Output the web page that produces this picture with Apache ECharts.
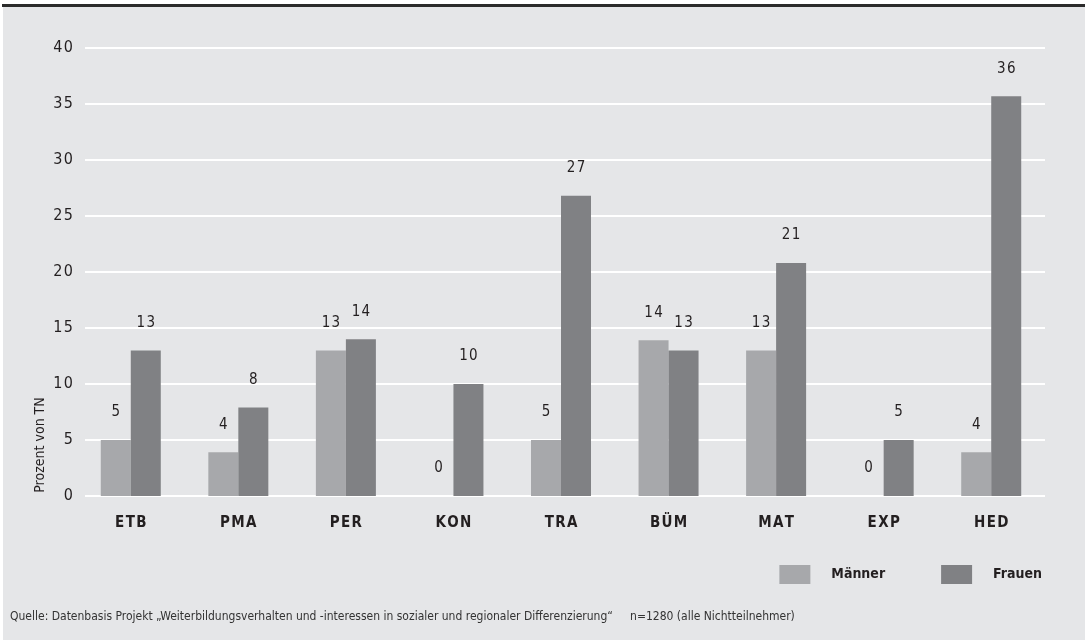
<!DOCTYPE html>
<html>
<head>
<meta charset="utf-8">
<script src="https://cdn.jsdelivr.net/npm/echarts@6/dist/echarts.min.js"></script>
<style>
    html, body {
        margin: 0;
        padding: 0;
        background: #fff;
    }

    #chart {
        width: 1085px;
        height: 640px;
    }
</style>
</head>
<body>
<div id="chart"></div>
<script>
// Kategorien und Werte (Prozent von TN)
const categories = ['ETB', 'PMA', 'PER', 'KON', 'TRA', 'BÜM', 'MAT', 'EXP', 'HED'];
const maenner = [5, 3.9, 13, 0, 5, 13.9, 13, 0, 3.9];
const frauen = [13, 7.9, 14, 10, 26.8, 13, 20.8, 5, 35.7];
const yTicks = [0, 5, 10, 15, 20, 25, 30, 35, 40];
const source = 'Quelle: Datenbasis Projekt \u201EWeiterbildungsverhalten und -interessen in sozialer und regionaler Differenzierung\u201C     n=1280 (alle Nichtteilnehmer)';

const FONT = '"Liberation Sans Narrow", "DejaVu Sans Condensed", sans-serif';
const spaced = s => String(s).split('').join('\u200a');

const chart = echarts.init(document.getElementById('chart'));

chart.setOption({
    backgroundColor: '#fff',
    animation: false,
    textStyle: { fontFamily: FONT, color: '#231f20' },
    graphic: [
        // grauer Hintergrund
        { type: 'rect', shape: { x: 3, y: 7, width: 1082, height: 633 }, style: { fill: '#e5e6e8' }, z: -10 },
        // dunkle Linie oben
        { type: 'rect', shape: { x: 2, y: 4, width: 1083, height: 3 }, style: { fill: '#2b2b2b' }, z: -10 },
        {
            type: 'text', x: 40, y: 445, rotation: Math.PI / 2,
            style: { text: 'Prozent von TN', font: '14px ' + FONT, fill: '#231f20', align: 'center', verticalAlign: 'middle' }
        },
        {
            type: 'text', left: 10, top: 611,
            style: { text: source, font: '12px ' + FONT, fill: '#333' }
        }
    ],
    legend: {
        right: 38,
        top: 560,
        itemWidth: 31,
        itemHeight: 19,
        itemGap: 56,
        icon: 'rect',
        textStyle: { fontFamily: FONT, fontSize: 14, fontWeight: 'bold', color: '#231f20', padding: [0, 0, 0, 16] },
        data: ['Männer', 'Frauen']
    },
    grid: [
        { left: 85, right: 40, top: 48, bottom: 144 },
        { left: 77, right: 40, top: 48, bottom: 144 }
    ],
    xAxis: [
        { gridIndex: 0, type: 'value', show: false },
        {
            gridIndex: 1,
            type: 'category',
            data: categories,
            axisLine: { show: false },
            axisTick: { show: false },
            axisLabel: {
                margin: 20,
                fontFamily: FONT,
                fontSize: 15,
                fontWeight: 'bold',
                color: '#231f20',
                formatter: v => spaced(v)
            }
        }
    ],
    yAxis: [
        {
            gridIndex: 0,
            type: 'value',
            min: yTicks[0],
            max: yTicks[yTicks.length - 1],
            interval: 5,
            axisLine: { show: false },
            axisTick: { show: false },
            axisLabel: { margin: 12, fontFamily: FONT, fontSize: 16, color: '#231f20', formatter: v => spaced(v) },
            splitLine: { lineStyle: { color: '#ffffff', width: 2 } }
        },
        {
            gridIndex: 1,
            type: 'value',
            min: yTicks[0],
            max: yTicks[yTicks.length - 1],
            interval: 5,
            show: false,
            splitLine: { show: false }
        }
    ],
    series: [
        {
            name: 'Männer',
            type: 'bar',
            xAxisIndex: 1,
            yAxisIndex: 1,
            barWidth: 30,
            barGap: '0%',
            itemStyle: { color: '#a7a8ab' },
            label: {
                show: true,
                position: 'top',
                distance: 20,
                fontFamily: FONT,
                fontSize: 15,
                color: '#231f20',
                formatter: p => spaced(Math.round(p.value))
            },
            data: maenner
        },
        {
            name: 'Frauen',
            type: 'bar',
            xAxisIndex: 1,
            yAxisIndex: 1,
            barWidth: 30,
            barGap: '0%',
            itemStyle: { color: '#808184' },
            label: {
                show: true,
                position: 'top',
                distance: 20,
                fontFamily: FONT,
                fontSize: 15,
                color: '#231f20',
                formatter: p => spaced(Math.round(p.value))
            },
            data: frauen
        }
    ]
});
</script>
</body>
</html>
